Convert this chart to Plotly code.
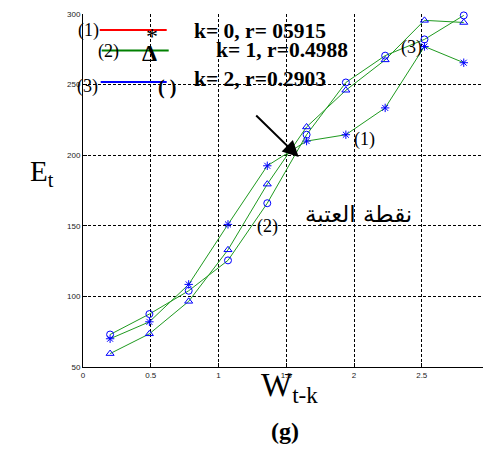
import plotly.graph_objects as go

# Data
x_vals = [0.2, 0.49, 0.78, 1.07, 1.36, 1.65, 1.94, 2.23, 2.52, 2.81]
series1_star = [70.0, 82.0, 108.5, 151.0, 192.5, 210.0, 214.5, 233.5, 277.0, 265.5]
series2_tri = [59.5, 73.5, 96.5, 133.0, 179.5, 220.0, 246.0, 267.5, 295.5, 294.0]
series3_circ = [73.0, 87.5, 104.0, 125.5, 166.0, 214.5, 251.5, 270.5, 282.0, 299.0]

x_ticks = [0, 0.5, 1, 1.5, 2, 2.5]
x_tick_text = ["0", "0.5", "1", "1.5", "2", "2.5"]
y_ticks = [50, 100, 150, 200, 250, 300]
y_tick_text = ["50", "100", "150", "200", "250", "300"]

legend_labels = ["(1)", "(2)", "(3)"]
legend_texts = ["k= 0, r= 05915", "k= 1, r=0.4988", "k= 2, r=0.2903"]

LINE_GREEN = "#1f9a1f"
MARK_BLUE = "#0000ff"
SERIF = "Liberation Serif, Times New Roman, serif"

fig = go.Figure()
for ys, sym in [(series1_star, "asterisk-open"), (series2_tri, "triangle-up-open"), (series3_circ, "circle-open")]:
    fig.add_trace(go.Scatter(
        x=x_vals, y=ys, mode="lines+markers",
        line=dict(color=LINE_GREEN, width=1),
        marker=dict(symbol=sym, size=7, color=MARK_BLUE, line=dict(color=MARK_BLUE, width=1)),
        showlegend=False, cliponaxis=False,
    ))

# pixel -> data helpers (plot area: left 83, right 483, top 14, bottom 367)
X0, Y0 = 83.3, 367.0
PX = 135.5
PY = 353.0 / 250.0

def dx(px):
    return (px - X0) / PX

def dy(py):
    return 50 + (Y0 - py) / PY

shapes = []
legend_line_colors = ["#ff0000", "#008000", "#0000ff"]
legend_line_pos = [(100, 167, 30), (102, 169, 50.5), (101, 167, 82)]
for col, (xa, xb, yy) in zip(legend_line_colors, legend_line_pos):
    shapes.append(dict(type="line", xref="x", yref="y", x0=dx(xa), x1=dx(xb), y0=dy(yy), y1=dy(yy),
                       line=dict(color=col, width=2)))

ann = []
# legend number labels
for lab, (px, py) in zip(legend_labels, [(89, 30), (109, 51), (88, 86)]):
    ann.append(dict(x=dx(px), y=dy(py), xref="x", yref="y", text=lab, showarrow=False,
                    font=dict(family=SERIF, size=18, color="black")))
# legend marker glyphs
ann.append(dict(x=dx(152), y=dy(36), xref="x", yref="y", text="*", showarrow=False,
                font=dict(family=SERIF, size=24, color="black")))
ann.append(dict(x=dx(150), y=dy(53), xref="x", yref="y", text="<b>Δ</b>", showarrow=False,
                font=dict(family=SERIF, size=24, color="black")))
ann.append(dict(x=dx(167), y=dy(87), xref="x", yref="y", text="<b>( )</b>", showarrow=False,
                font=dict(family=SERIF, size=20, color="black")))
# legend texts (left aligned)
for txt, (px, py) in zip(legend_texts, [(192, 31), (214, 50), (192, 79)]):
    ann.append(dict(x=dx(px), y=dy(py), xref="x", yref="y", text="<b>" + txt + "</b>", showarrow=False,
                    xanchor="left", font=dict(family=SERIF, size=21.5, color="black")))
# curve labels
for lab, (px, py) in [("(1)", (365, 139)), ("(2)", (268, 226)), ("(3)", (412, 47))]:
    ann.append(dict(x=dx(px), y=dy(py), xref="x", yref="y", text=lab, showarrow=False,
                    font=dict(family=SERIF, size=18, color="black")))
# Arabic label
ann.append(dict(x=dx(359), y=dy(214), xref="x", yref="y", text="نقطة العتبة", showarrow=False,
                font=dict(family="DejaVu Sans, Noto Sans, serif", size=23, color="black")))
# arrow
ann.append(dict(x=dx(299), y=dy(157), xref="x", yref="y", ax=-44, ay=-43, text="",
                showarrow=True, arrowhead=2, arrowsize=1.6, arrowwidth=2, arrowcolor="black"))
# axis titles
ann.append(dict(x=28, y=449 - 173, xref="paper", yref="paper", text="E<sub>t</sub>", showarrow=False,
                font=dict(family=SERIF, size=29, color="black")))
ann.append(dict(x=289, y=449 - 410, xref="paper", yref="paper", text="W<sub>t-k</sub>", showarrow=False,
                font=dict(family=SERIF, size=33, color="black")))
ann.append(dict(x=285, y=449 - 446, xref="paper", yref="paper", text="<b>(g)</b>", showarrow=False,
                font=dict(family=SERIF, size=24, color="black")))

# convert paper-pixel annotations to paper fractions
W, H = 483, 449
L, R, T, B = 83, 0, 14, 82
for a in ann:
    if a.get("xref") == "paper":
        a["x"] = (a["x"] - L) / (W - L - R)
        a["y"] = (a["y"] - B) / (H - T - B)

axis_common = dict(showgrid=True, gridcolor="black", griddash="3px,2px", gridwidth=1,
                   zeroline=False, showline=True, linecolor="black", linewidth=1,
                   ticks="inside", ticklen=4, tickcolor="black",
                   tickfont=dict(family="Liberation Sans, Arial", size=8, color="#222"))

fig.update_layout(
    width=W, height=H,
    margin=dict(l=L, r=R, t=T, b=B),
    plot_bgcolor="white", paper_bgcolor="white",
    shapes=shapes, annotations=ann,
    xaxis=dict(range=[0, 400 / PX], tickvals=x_ticks, ticktext=x_tick_text, **axis_common),
    yaxis=dict(range=[50, 300], tickvals=y_ticks, ticktext=y_tick_text, **axis_common),
)

fig.write_html("out.html", config={"displayModeBar": False},
               post_script="document.body.style.margin='0';document.body.style.overflow='hidden';")
